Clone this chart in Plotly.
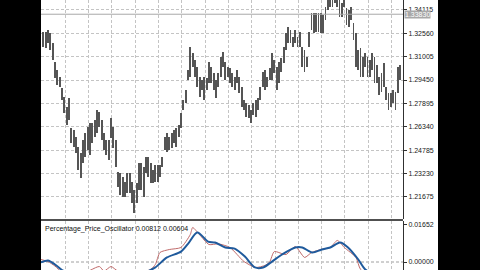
import plotly.graph_objects as go

# ---- data ----
highs = [1.3267,1.3267,1.3278,1.3256,1.3189,1.3067,1.3012,1.2967,1.2889,1.2834,
1.2767,1.2823,1.2623,1.2612,1.2568,1.2501,1.2457,1.2545,1.2590,1.2634,
1.2656,1.2656,1.2679,1.2745,1.2734,1.2679,1.2590,1.2545,1.2545,1.2690,
1.2634,1.2545,1.2335,1.2323,1.2301,1.2268,1.2323,1.2323,1.2268,1.2212,
1.2257,1.2390,1.2390,1.2368,1.2434,1.2434,1.2390,1.2346,1.2379,1.2379,
1.2379,1.2434,1.2568,1.2590,1.2568,1.2590,1.2612,1.2623,1.2645,1.2723,
1.2812,1.2878,1.3012,1.3167,1.3123,1.3078,1.3034,1.2967,1.2945,1.2967,
1.2956,1.3067,1.3034,1.2990,1.2945,1.2990,1.3100,1.3134,1.3067,1.3034,
1.3023,1.2990,1.2967,1.3012,1.2967,1.2901,1.2812,1.2790,1.2779,1.2745,
1.2790,1.2812,1.2823,1.2901,1.3001,1.3012,1.2967,1.3023,1.3123,1.3078,
1.3034,1.3067,1.3089,1.3167,1.3256,1.3300,1.3278,1.3234,1.3278,1.3234,
1.3267,1.3167,1.3145,1.3100,1.3267,1.3389,1.3389,1.3389,1.3389,1.3389,
1.3378,1.3433,1.3478,1.3500,1.3478,1.3489,1.3478,1.3478,1.3456,1.3478,
1.3422,1.3411,1.3433,1.3322,1.3256,1.3145,1.3156,1.3100,1.3123,1.3100,
1.3078,1.3123,1.3100,1.3045,1.2967,1.2990,1.3056,1.2901,1.2856,1.2856,
1.2878,1.2867,1.3034,1.3045]

lows = [1.3167,1.3156,1.3189,1.3145,1.3078,1.2956,1.2912,1.2901,1.2812,1.2723,
1.2645,1.2679,1.2523,1.2501,1.2457,1.2346,1.2290,1.2390,1.2434,1.2479,
1.2445,1.2523,1.2568,1.2590,1.2634,1.2545,1.2479,1.2445,1.2412,1.2557,
1.2490,1.2368,1.2235,1.2179,1.2168,1.2168,1.2190,1.2190,1.2124,1.2057,
1.2124,1.2212,1.2212,1.2168,1.2323,1.2301,1.2257,1.2257,1.2268,1.2268,
1.2301,1.2368,1.2479,1.2468,1.2479,1.2490,1.2523,1.2501,1.2568,1.2623,
1.2745,1.2790,1.2945,1.2967,1.3034,1.2967,1.2901,1.2834,1.2878,1.2812,
1.2878,1.2923,1.2923,1.2878,1.2823,1.2901,1.2967,1.3034,1.2945,1.2967,
1.2923,1.2901,1.2878,1.2923,1.2856,1.2767,1.2745,1.2701,1.2690,1.2656,
1.2712,1.2701,1.2745,1.2812,1.2901,1.2878,1.2901,1.2945,1.2945,1.2990,
1.2878,1.2923,1.3001,1.3056,1.3145,1.3189,1.3189,1.3167,1.3189,1.3167,
1.3167,1.3034,1.3001,1.3034,1.3167,1.3278,1.3256,1.3267,1.3267,1.3256,
1.3256,1.3345,1.3411,1.3433,1.3433,1.3456,1.3433,1.3367,1.3367,1.3433,
1.3311,1.3300,1.3345,1.3211,1.3034,1.3012,1.2967,1.2967,1.3034,1.2967,
1.2967,1.3012,1.2923,1.2923,1.2845,1.2867,1.2901,1.2812,1.2745,1.2767,
1.2790,1.2745,1.2856,1.2945]

bar_index = list(range(len(highs)))

price_ticks = [1.34115, 1.32560, 1.31005, 1.29450, 1.27895, 1.26340, 1.24785, 1.23230, 1.21675]
current_price = 1.33830

signal_x = [-1, 2, 5, 8, 12, 20, 30, 40, 45, 48, 53, 59, 62, 66, 70.6, 73.6, 78, 82, 86.4, 90.7,
            94.2, 98, 102.3, 108, 111, 115.2, 119.4, 123, 127.2, 130.6, 135, 138, 145, 154]
signal_y = [-0.0002, 0.0007, -0.0011, -0.0035, -0.006, -0.008, -0.008, -0.006, -0.004, -0.0024,
            0.0020, 0.0046, 0.0080, 0.0130, 0.0090, 0.0086, 0.0064, 0.0059, 0.0024, -0.0024,
            -0.0024, 0.0002, 0.0033, 0.0064, 0.0064, 0.0042, 0.0055, 0.0064, 0.0086, 0.0064,
            0.0011, -0.0033, -0.007, -0.008]

ppo_x = [-1, 2, 5, 8, 15, 24, 26, 29, 32, 40, 46, 48, 50, 54, 59, 63, 64, 67, 71, 75,
         80, 86, 91, 95, 97, 99, 104, 108, 112, 115, 119, 123, 126, 129, 134, 136, 145, 154]
ppo_y = [0.0011, 0.0002, -0.0018, -0.0045, -0.006, -0.0020, -0.0040, -0.0020, -0.0040, -0.005,
         -0.0033, -0.0011, 0.0042, 0.0055, 0.0064, 0.0121, 0.0152, 0.0120, 0.0077, 0.0080,
         0.0064, 0.0002, -0.0024, -0.0015, 0.0000, 0.0046, 0.0033, 0.0068, 0.0020, 0.0042,
         0.0055, 0.0064, 0.0095, 0.0064, 0.0020, -0.0033, -0.009, -0.006]

osc_ticks = [0.01652, 0.0]
osc_title = "Percentage_Price_Oscillator 0.00812 0.00604"

# ---- layout geometry (pixels) ----
W, H = 480, 270
L, R = 41, 403
main_top, main_bot = 0, 219
osc_top, osc_bot = 221, 270

def py(p):
    return (H - p) / H

grid_x = [9.3 + 10 * k for k in range(15)]

fig = go.Figure()
fig.add_trace(go.Bar(
    x=bar_index, base=lows, y=[h - l for h, l in zip(highs, lows)],
    width=0.32, marker=dict(color="#555555", line=dict(width=0)),
    xaxis="x", yaxis="y", showlegend=False))

fig.add_trace(go.Scatter(x=ppo_x, y=ppo_y, mode="lines", line=dict(color="#c06a6a", width=1, shape="spline", smoothing=0.6),
                         xaxis="x2", yaxis="y2", showlegend=False))
fig.add_trace(go.Scatter(x=signal_x, y=signal_y, mode="lines", line=dict(color="#1f5a9c", width=2, shape="spline", smoothing=0.8),
                         xaxis="x2", yaxis="y2", showlegend=False))

xr = [-1.0, -1.0 + (R - L) / 2.333]
grid_common = dict(showgrid=True, gridcolor="#c4c4c4", griddash="3px,2px", gridwidth=1)

fig.update_layout(
    width=W, height=H,
    margin=dict(l=L, r=W - R, t=0, b=0),
    paper_bgcolor="black", plot_bgcolor="white",
    bargap=0,
    xaxis=dict(domain=[0, 1], range=xr, tickvals=grid_x, showticklabels=False, ticks="",
               zeroline=False, anchor="y", **grid_common),
    yaxis=dict(domain=[py(main_bot), 1], range=[1.34778 - (main_bot) * 0.000666, 1.34778],
               side="right", tickvals=price_ticks, ticktext=[f"{v:.5f}" for v in price_ticks],
               ticks="outside", ticklen=3, tickcolor="#303030",
               tickfont=dict(family="Liberation Sans, Arial", size=7, color="#202020"),
               showline=True, linecolor="#303030", linewidth=1, zeroline=False, **grid_common),
    xaxis2=dict(domain=[0, 1], range=xr, tickvals=grid_x, showticklabels=False, ticks="",
                zeroline=False, anchor="y2", **grid_common),
    yaxis2=dict(domain=[0, py(osc_top)], range=[-(osc_bot - 262) * 0.0004405, 0.01652 + (224.5 - osc_top) * 0.0004405],
                side="right", tickvals=osc_ticks, ticktext=[f"{v:.5f}" for v in osc_ticks],
                ticks="outside", ticklen=3, tickcolor="#303030",
                tickfont=dict(family="Liberation Sans, Arial", size=7, color="#202020"),
                showline=True, linecolor="#303030", linewidth=1, zeroline=False, showgrid=False),
)

shapes = []
# white label area on the right
shapes.append(dict(type="rect", xref="paper", yref="paper",
                   x0=1, x1=(438 - L) / (R - L), y0=0, y1=1,
                   fillcolor="white", line=dict(width=0), layer="below"))
# separator between panels
shapes.append(dict(type="rect", xref="paper", yref="paper",
                   x0=0, x1=1, y0=py(221), y1=py(219),
                   fillcolor="#505050", line=dict(width=0), layer="above"))
# current price line
shapes.append(dict(type="line", xref="x domain", yref="y", x0=0, x1=1,
                   y0=current_price, y1=current_price, line=dict(color="#a8a8a8", width=1)))
# zero line in oscillator
shapes.append(dict(type="line", xref="x2 domain", yref="y2", x0=0, x1=1, y0=0, y1=0,
                   line=dict(color="#a0a0a0", width=1, dash="3px,2px"), layer="below"))
fig.update_layout(shapes=shapes)

fig.add_annotation(xref="paper", yref="y", x=(404 - L) / (R - L), y=current_price,
                   xanchor="left", yanchor="middle", text=f"{current_price:.5f}", showarrow=False,
                   font=dict(family="Liberation Sans, Arial", size=7, color="white"),
                   bgcolor="#a8a8a8", borderpad=0)
fig.add_annotation(xref="paper", yref="paper", x=(43 - L) / (R - L), y=py(229),
                   xanchor="left", yanchor="middle", text=osc_title, showarrow=False,
                   font=dict(family="Liberation Sans, Arial", size=7, color="#101010"))

fig.write_html("out.html")
